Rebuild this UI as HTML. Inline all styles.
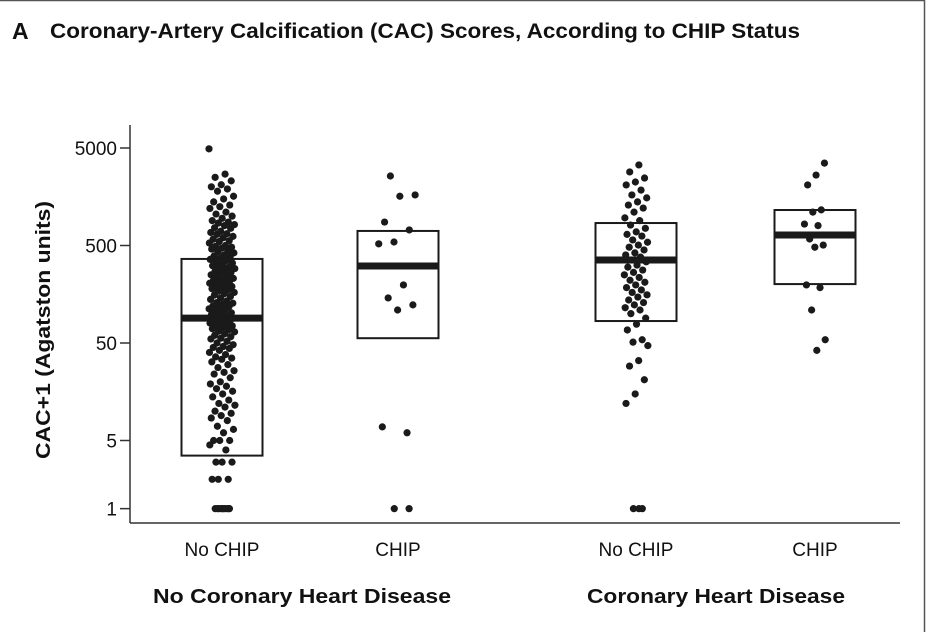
<!DOCTYPE html>
<html><head><meta charset="utf-8"><style>
html,body{margin:0;padding:0;background:#fff;}
svg{display:block;font-family:"Liberation Sans",sans-serif;}
</style></head><body>
<svg id="chart" width="930" height="632" viewBox="0 0 930 632">
<rect x="0" y="0" width="930" height="632" fill="#fff"/>
<line x1="0" y1="0.5" x2="925" y2="0.5" stroke="#555" stroke-width="1.5"/>
<line x1="924.5" y1="0" x2="924.5" y2="632" stroke="#555" stroke-width="1.5"/>
<text x="12" y="39" font-size="23" font-weight="bold" fill="#111">A</text>
<text x="50" y="38" font-size="21" font-weight="bold" fill="#111" textLength="750" lengthAdjust="spacingAndGlyphs">Coronary-Artery Calcification (CAC) Scores, According to CHIP Status</text>
<text transform="translate(50,330) rotate(-90)" text-anchor="middle" font-size="20" font-weight="bold" fill="#111" textLength="258" lengthAdjust="spacingAndGlyphs">CAC+1 (Agatston units)</text>
<g id="axes"></g>
<g id="boxes"></g>
<g id="dots"></g>
<g id="labels"></g>
</svg>
<script>
const yTickValues = [1, 5, 50, 500, 5000];
const yTickLabels = ["1", "5", "50", "500", "5000"];
const categories = ["No CHIP", "CHIP", "No CHIP", "CHIP"];
const groupLabels = ["No Coronary Heart Disease", "Coronary Heart Disease"];
const boxQ1 = [3.5, 56, 84, 201];
const boxMedian = [90, 308, 355, 641];
const boxQ3 = [364, 705, 850, 1156];
const pointsNoChdNoChip = [4900,2700,2500,2300,2100,2000,1900,1800,1600,1500,1400,1300,1250,1200,1100,1050,1000,950,900,870,850,820,800,760,750,700,680,660,650,620,600,580,560,550,530,500,490,480,470,460,440,430,420,400,390,380,370,360,350,340,330,320,310,300,295,290,280,270,265,260,250,245,240,230,225,220,215,210,205,200,195,190,185,180,175,170,165,160,155,150,145,140,135,130,128,125,120,118,115,112,110,105,102,100,98,95,92,90,88,86,85,82,80,78,76,75,72,70,68,66,65,62,60,58,56,55,52,50,48,46,45,44,42,40,38,36,35,34,32,30,28,26,25,24,22,20,19,18,17,16,15,14,13,12,11.5,11,10,9.5,9,8.5,8,7,6.5,6,5,5,5,4.5,4,3,3,3,2,2,2,1,1,1,1,1,1,1,1,1,1];
const pointsNoChdChip = [2580,1650,1600,870,722,543,520,197,145,123,109,6.9,6.0,1,1];
const pointsChdNoChip = [3350,2840,2460,2240,2090,1850,1650,1540,1400,1300,1210,1100,960,900,810,750,690,650,625,570,540,505,480,450,420,400,380,355,340,315,300,280,265,250,235,220,210,197,185,175,165,156,148,138,130,123,115,109,100,90,78,68,54,51,47,33,29,21,15,12,1,1,1];
const pointsChdChip = [3500,2640,2090,1160,1100,830,800,583,505,480,197,185,109,54,42];
const groupPoints = [pointsNoChdNoChip, pointsNoChdChip, pointsChdNoChip, pointsChdChip];

const NS = "http://www.w3.org/2000/svg";
const xLeft = 130, xRight = 900, yAxisTop = 125, yAxisBottom = 523;
const logTop = Math.log10(5000), yTopPx = 148, pxPerDecade = 97.5;
function yScale(v){ return yTopPx + (logTop - Math.log10(v)) * pxPerDecade; }
const centers = [222, 398, 636, 815];
const boxW = 81;
const jitterW = [13, 20, 12, 11];
function xScale(i){ return centers[i]; }
function mk(tag, attrs, parent){ const e=document.createElementNS(NS,tag); for(const k in attrs) e.setAttribute(k,attrs[k]); parent.appendChild(e); return e; }

const axes = document.getElementById('axes');
const yAxis = mk('line',{x1:xLeft,y1:yAxisTop,x2:xLeft,y2:yAxisBottom,stroke:'#333','stroke-width':1.5},axes);


const xAxis = mk('line',{x1:xLeft,y1:yAxisBottom,x2:xRight,y2:yAxisBottom,stroke:'#333','stroke-width':1.5},axes);


yTickValues.forEach((v,i)=>{
  const y = yScale(v);
  const t = mk('line',{x1:xLeft-10,y1:y,x2:xLeft,y2:y,stroke:'#333','stroke-width':1.5},axes);
  
  
  const l = mk('text',{x:xLeft-13,y:y+7,'text-anchor':'end','font-size':19,fill:'#111'},axes);
  
  
  l.textContent = yTickLabels[i];
});

const boxes = document.getElementById('boxes');
categories.forEach((c,i)=>{
  const cx = xScale(i);
  const top = yScale(boxQ3[i]), bot = yScale(boxQ1[i]);
  const r = mk('rect',{x:cx-boxW/2,y:top,width:boxW,height:bot-top,fill:'none',stroke:'#1a1a1a','stroke-width':2},boxes);
  
  
  const m = mk('line',{x1:cx-boxW/2,y1:yScale(boxMedian[i]),x2:cx+boxW/2,y2:yScale(boxMedian[i]),stroke:'#1a1a1a','stroke-width':7},boxes);
  
  
});

const dots = document.getElementById('dots');
groupPoints.forEach((pts,g)=>{
  pts.forEach((v,j)=>{
    const frac = ((j*0.618034 + g*0.31) % 1) * 2 - 1;
    const cx = xScale(g) + frac * jitterW[g] * (v<=1.05 ? 0.6 : 1);
    const d = mk('circle',{cx:cx,cy:yScale(v),r:3.6,fill:'#1a1a1a'},dots);
    
    
  });
});

const labels = document.getElementById('labels');
categories.forEach((c,i)=>{
  const t = mk('text',{x:xScale(i),y:556,'text-anchor':'middle','font-size':19,fill:'#111'},labels);
  
  
  t.textContent = c;
});
[[302,298],[716,258]].forEach((p,i)=>{
  const t = mk('text',{x:p[0],y:603,'text-anchor':'middle','font-size':20,'font-weight':'bold',fill:'#111',textLength:p[1],lengthAdjust:'spacingAndGlyphs'},labels);
  
  
  t.textContent = groupLabels[i];
});
</script>
</body></html>
